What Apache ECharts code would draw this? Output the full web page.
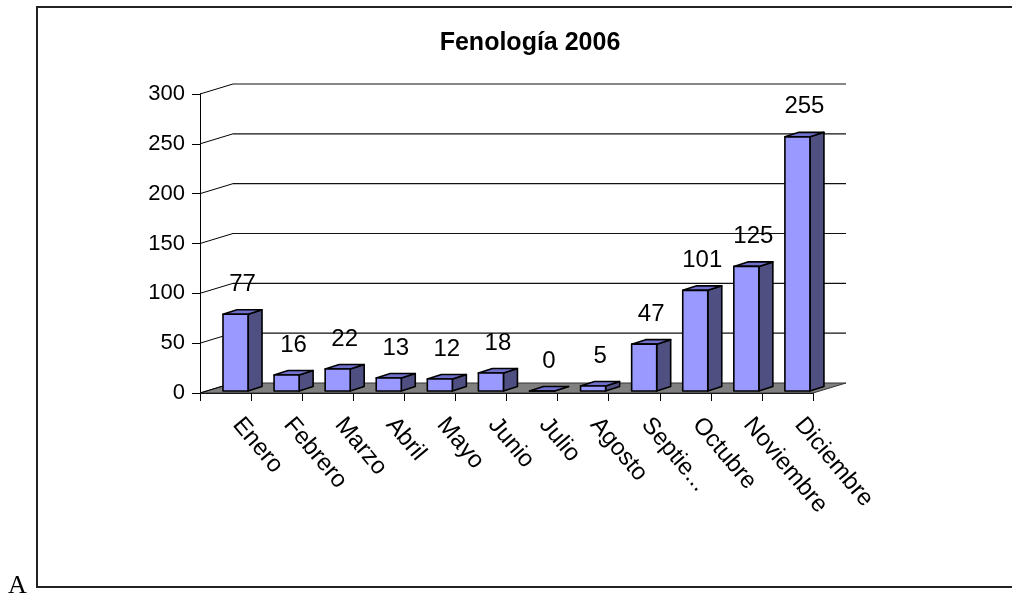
<!DOCTYPE html>
<html>
<head>
<meta charset="utf-8">
<script src="https://cdn.jsdelivr.net/npm/echarts@6/dist/echarts.min.js"></script>
<style>
html,body{margin:0;padding:0;background:#fff;}
#chart{width:1012px;height:599px;}
</style>
</head>
<body>
<div id="chart"></div>
<script>
const chartTitle = 'Fenología 2006';
const categories = ['Enero','Febrero','Marzo','Abril','Mayo','Junio','Julio','Agosto','Septie...','Octubre','Noviembre','Diciembre'];
const values = [77, 16, 22, 13, 12, 18, 0, 5, 47, 101, 125, 255];
const yTickValues = [0, 50, 100, 150, 200, 250, 300];
const cornerLetter = 'A';

const DEPTH_X = 33, DEPTH_Y = 10;
const BAR_DX = 14, BAR_DY = 4.5;
const FONT = "'Liberation Sans', Arial, sans-serif";

const chart = echarts.init(document.getElementById('chart'), null, {renderer: 'canvas'});

function renderWall(params, api) {
  const cs = params.coordSys;
  const v = api.value(0);
  const y = api.coord([0, v])[1];
  const x0 = cs.x, x1 = cs.x + cs.width;
  const children = [];
  if (v === 0) {
    children.push({
      type: 'polygon',
      shape: {points: [[x0, y], [x1, y], [x1 + DEPTH_X, y - DEPTH_Y], [x0 + DEPTH_X, y - DEPTH_Y]]},
      style: {fill: '#808080', stroke: '#333', lineWidth: 1}
    });
  } else {
    children.push({
      type: 'line',
      shape: {x1: x0 + DEPTH_X, y1: y - DEPTH_Y, x2: x1 + DEPTH_X, y2: y - DEPTH_Y},
      style: {stroke: '#111', lineWidth: 1.2}
    });
  }
  children.push({
    type: 'line',
    shape: {x1: x0, y1: y, x2: x0 + DEPTH_X, y2: y - DEPTH_Y},
    style: {stroke: '#000', lineWidth: 1}
  });
  return {type: 'group', children: children};
}

function renderBar(params, api) {
  const i = api.value(0);
  const v = api.value(1);
  const p = api.coord([i, v]);
  const base = api.coord([i, 0]);
  const bw = api.size([1, 0])[0];
  const xl = p[0] - 0.05 * bw;
  const xr = xl + 0.49 * bw;
  const top = p[1] - 2;
  const bot = base[1] - 2;
  const stroke = {stroke: '#000', lineWidth: 1.6, lineJoin: 'round'};
  const children = [];
  children.push({
    type: 'polygon',
    shape: {points: [[xr, top], [xr + BAR_DX, top - BAR_DY], [xr + BAR_DX, bot - BAR_DY], [xr, bot]]},
    style: Object.assign({fill: '#4F4F82'}, stroke)
  });
  children.push({
    type: 'polygon',
    shape: {points: [[xl, top], [xl + BAR_DX, top - BAR_DY], [xr + BAR_DX, top - BAR_DY], [xr, top]]},
    style: Object.assign({fill: '#7070CC'}, stroke)
  });
  children.push({
    type: 'rect',
    shape: {x: xl, y: top, width: xr - xl, height: Math.max(bot - top, 0)},
    style: Object.assign({fill: '#9999FF'}, stroke)
  });
  children.push({
    type: 'text',
    style: {
      text: String(v),
      x: (xl + xr) / 2 + 7,
      y: top - 30,
      align: 'center',
      verticalAlign: 'middle',
      font: '24px ' + FONT,
      fill: '#000'
    }
  });
  return {type: 'group', children: children};
}

const option = {
  animation: false,
  backgroundColor: '#fff',
  title: {
    text: chartTitle,
    left: 525,
    top: 26,
    textAlign: 'center',
    textStyle: {fontSize: 25, fontWeight: 'bold', fontFamily: FONT, color: '#000'}
  },
  grid: {left: 200, right: 199, top: 94, bottom: 206, containLabel: false},
  xAxis: {
    type: 'category',
    data: categories,
    boundaryGap: true,
    axisLine: {show: true, lineStyle: {color: '#000', width: 1}},
    axisTick: {show: true, length: 8, interval: 0, lineStyle: {color: '#000'}},
    axisLabel: {
      interval: 0,
      rotate: -50,
      margin: 14,
      padding: [0, 0, 0, 18],
      fontSize: 24,
      fontFamily: FONT,
      color: '#000'
    },
    splitLine: {show: false}
  },
  yAxis: {
    type: 'value',
    min: 0,
    max: 300,
    interval: 50,
    axisLine: {show: true, lineStyle: {color: '#000', width: 1}},
    axisTick: {show: true, length: 8, lineStyle: {color: '#000'}},
    axisLabel: {margin: 15, fontSize: 22, fontFamily: FONT, color: '#000'},
    splitLine: {show: false}
  },
  series: [
    {
      type: 'custom',
      renderItem: renderWall,
      data: yTickValues.map(v => [v]),
      encode: {y: 0},
      z: 1,
      silent: true
    },
    {
      type: 'custom',
      renderItem: renderBar,
      data: values.map((v, i) => [i, v]),
      encode: {x: 0, y: 1},
      z: 3,
      silent: true
    }
  ],
  graphic: [
    {
      type: 'rect',
      shape: {x: 37, y: 7, width: 1000, height: 580},
      style: {fill: 'none', stroke: '#222', lineWidth: 2},
      silent: true
    },
    {
      type: 'text',
      left: 8,
      top: 573,
      style: {text: cornerLetter, font: '26px "Liberation Serif", "Times New Roman", serif', fill: '#000'}
    }
  ]
};
chart.setOption(option);
</script>
</body>
</html>
